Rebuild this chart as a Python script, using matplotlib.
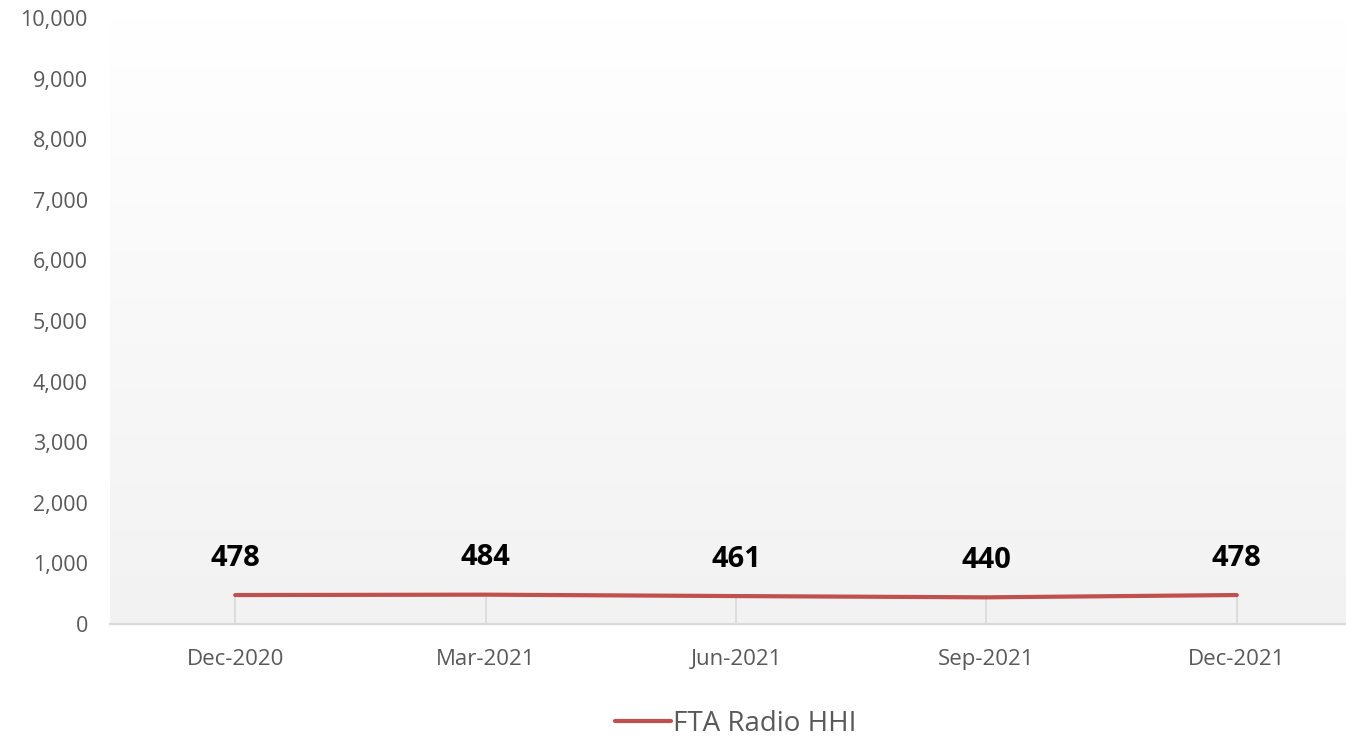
import matplotlib.pyplot as plt
import numpy as np
from matplotlib.ticker import FuncFormatter

quarters = ['Dec-2020', 'Mar-2021', 'Jun-2021', 'Sep-2021', 'Dec-2021']
hhi = [478, 484, 461, 440, 478]

line_color = '#c0504d'
text_grey = '#595959'
axis_grey = '#d9d9d9'

plt.rcParams['font.family'] = ['Open Sans', 'DejaVu Sans']

fig = plt.figure(figsize=(13.46, 7.37), dpi=100)
# plot area runs a little past the right edge of the canvas
ax = fig.add_axes([110 / 1346, (737 - 624) / 737, 1252 / 1346, 606 / 737])

# soft white-to-grey fill behind the series
grad = np.linspace(1.0, 0.0, 256).reshape(-1, 1)
ax.imshow(grad, cmap=plt.matplotlib.colors.LinearSegmentedColormap.from_list(
    'bg', ['#f2f2f2', '#ffffff']), extent=[0, 1, 0, 1], transform=ax.transAxes,
    aspect='auto', zorder=0)

x = np.arange(len(quarters))
ax.plot(x, hhi, color=line_color, lw=3, solid_capstyle='round', zorder=3,
        label='FTA Radio HHI')

for xi, v in zip(x, hhi):
    ax.annotate(f'{v}', (xi, v), xytext=(0, 16), textcoords='offset points',
                ha='center', va='bottom', fontsize=21, fontweight='bold',
                color='black', zorder=4)

ax.set_xlim(-0.5, len(quarters) - 0.5)
ax.set_ylim(0, 10000)
ax.set_yticks(range(0, 10001, 1000))
ax.yaxis.set_major_formatter(FuncFormatter(lambda v, _: f'{int(v):,}'))
ax.set_xticks(x)
ax.set_xticklabels(quarters)

for s in ['top', 'right', 'left']:
    ax.spines[s].set_visible(False)
ax.spines['bottom'].set_color(axis_grey)
ax.spines['bottom'].set_linewidth(1.5)

ax.tick_params(axis='y', length=0, pad=16, labelsize=15.5, labelcolor=text_grey)
ax.tick_params(axis='x', direction='in', length=21, width=1.2, color=axis_grey,
               pad=18, labelsize=16, labelcolor=text_grey)

leg = ax.legend(loc='center', bbox_to_anchor=(0.5, -0.165), frameon=False,
                fontsize=20, handlelength=2.0, handletextpad=0.1)
for t in leg.get_texts():
    t.set_color(text_grey)

fig.savefig('out.png', dpi=100)
